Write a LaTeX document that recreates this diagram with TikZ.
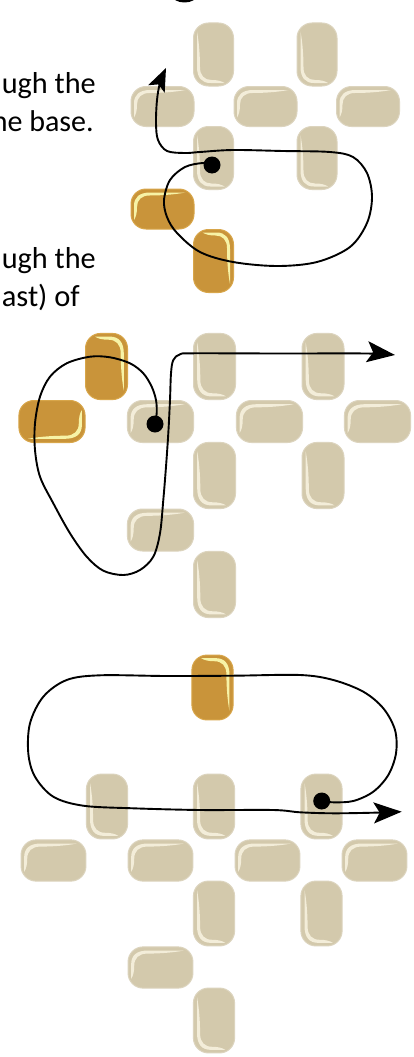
\documentclass[tikz,border=0pt]{standalone}
\usepackage{fontspec}
\usepackage{graphicx}
\setmainfont{Carlito}
\newfontfamily\labelfont{Carlito}
\usetikzlibrary{arrows.meta}
\definecolor{tanfill}{HTML}{D3C9AC}
\definecolor{tanedge}{HTML}{DCD4BE}
\definecolor{tanhl}{HTML}{F3EDD9}
\definecolor{goldfill}{HTML}{C9943A}
\definecolor{goldedge}{HTML}{D8A64A}
\definecolor{goldhl}{HTML}{F7F3A6}
\newcommand\tiledraw[3]{%
  \filldraw[fill=#1, draw=#2, line width=1pt, rounded corners=15pt]
    (-31.5,-20) -- (31.5,-20) -- (31.5,20) -- (-31.5,20) -- cycle;
  \fill[#3] (-28.5,-11) -- (-28.5,3) .. controls (-28.5,12) and (-23,16.5) .. (-12,16.5) -- (23,16.5)
    .. controls (10,14) and (-5,13.5) .. (-13,13.5) .. controls (-21,13.5) and (-25.5,9) .. (-25.5,2)
    .. controls (-25.5,-4) and (-26.5,-8) .. (-28.5,-11) -- cycle;
}
\tikzset{
  pics/tantile/.style={code={\tiledraw{tanfill}{tanedge}{tanhl}}},
  pics/goldtile/.style={code={\tiledraw{goldfill}{goldedge}{goldhl}}},
  curve/.style={line width=1.9pt, line join=round, line cap=round},
  dot/.style={circle, fill=black, minimum size=17pt, inner sep=0pt},
  txt/.style={inner sep=0pt, anchor=base east},
  tipA/.style={-{Stealth[length=23pt,width=18pt,inset=5pt]}},
  tipB/.style={-{Stealth[length=28pt,width=21pt,inset=6pt]}}
}
\newcommand\fittxt[2]{\resizebox{#1}{!}{\labelfont\fontsize{30pt}{36pt}\selectfont #2}}
\begin{document}
\begin{tikzpicture}[x=1pt,y=1pt]
\useasboundingbox (0,0) rectangle (414,-1057);
\clip (0,0) rectangle (414,-1057);
\fill[white] (0,0) rectangle (414,-1057);
% top fragment
\fill[black] (184.5,5.5) ellipse [x radius=13, y radius=8];
% texts
\node[txt] (t1) at (96,-93) {\fittxt{94pt}{ugh the}};
\node[txt] (t2) at (94,-131) {\fittxt{102pt}{he base.}};
\node[txt] (t3) at (96,-268) {\fittxt{94pt}{ugh the}};
\node[txt] (t4) at (80,-306) {\fittxt{78pt}{ast) of}};
% ---------- panel 1 ----------
\pic[rotate=90] at (213.5,-54.5) {tantile};
\pic[rotate=90] at (317,-54.5) {tantile};
\pic at (162.5,-106.5) {tantile};
\pic at (265.5,-106.5) {tantile};
\pic at (368,-106.5) {tantile};
\pic[rotate=90] at (213.5,-158) {tantile};
\pic[rotate=90] at (317,-158) {tantile};
\pic at (162.5,-209) {goldtile};
\pic[rotate=-90] at (213.5,-261) {goldtile};
\coordinate (p1) at (212,-165);
\coordinate (e1) at (166,-68);
\draw[curve, tipA] plot[smooth, tension=0.55] coordinates {(p1) (203,-163) (185,-167) (170,-180) (164,-200) (167,-217) (177,-233) (200,-252) (233,-262) (277,-266) (317,-262) (350,-247) (367,-223) (372,-197) (367,-173) (353,-157) (330,-152) (283,-151) (233,-150) (200,-152) (185,-153) (167,-151) (158,-140) (156,-123) (157,-100) (160,-83) (e1)};
\node[dot] (d1) at (p1) {};
% ---------- panel 2 ----------
\pic[rotate=-90, scale=1.05] at (106.5,-366.5) {goldtile};
\pic[rotate=180, scale=1.05] at (52,-421.5) {goldtile};
\pic[scale=1.05] at (160.5,-421.5) {tantile};
\pic[scale=1.05] at (269.5,-421.5) {tantile};
\pic[scale=1.05] at (377.5,-421.5) {tantile};
\pic[rotate=90, scale=1.05] at (214.5,-366.5) {tantile};
\pic[rotate=90, scale=1.05] at (323,-366.5) {tantile};
\pic[rotate=90, scale=1.05] at (214.5,-475.5) {tantile};
\pic[rotate=90, scale=1.05] at (323,-475.5) {tantile};
\pic[scale=1.05] at (160.5,-530) {tantile};
\pic[rotate=90, scale=1.05] at (214.5,-584.5) {tantile};
\coordinate (p2) at (155,-424);
\coordinate (e2) at (395,-355);
\draw[curve, tipB] plot[smooth, tension=0.55] coordinates {(p2) (156.7,-413) (156,-400) (151.7,-386.7) (143.3,-373.3) (130,-363.3) (110,-357.3) (90,-356.7) (66.7,-363.3) (50,-376.7) (40,-396.7) (35,-423.3) (35,-450) (40,-476.7) (53.3,-503.3) (70,-533.3) (86.7,-556.7) (103.3,-570.7) (123.3,-575) (140,-570) (153.3,-556.7) (160,-533.3) (163.3,-500) (166,-466.7) (168.3,-433.3) (170,-400) (171,-373.3) (173.3,-360) (180,-354.3) (193.3,-353.3) (280,-353.5) (366.7,-353.5) (e2)};
\node[dot] (d2) at (p2) {};
% ---------- panel 3 ----------
\pic[rotate=-90, scale=1.03] at (212.5,-687.5) {goldtile};
\pic[rotate=90, scale=1.03] at (107,-806.5) {tantile};
\pic[rotate=90, scale=1.03] at (214,-806.5) {tantile};
\pic[rotate=90, scale=1.03] at (321.5,-806.5) {tantile};
\pic[scale=1.03] at (53.5,-860.5) {tantile};
\pic[scale=1.03] at (160.5,-860.5) {tantile};
\pic[scale=1.03] at (267.5,-860.5) {tantile};
\pic[scale=1.03] at (374.5,-860.5) {tantile};
\pic[rotate=90, scale=1.03] at (214,-913.5) {tantile};
\pic[rotate=90, scale=1.03] at (321.5,-913.5) {tantile};
\pic[scale=1.03] at (160.5,-967.5) {tantile};
\pic[rotate=90, scale=1.03] at (214,-1020.5) {tantile};
\coordinate (p3) at (321.7,-801);
\coordinate (e3) at (401.7,-811.7);
\draw[curve, tipB] plot[smooth, tension=0.55] coordinates {(p3) (333.3,-802.3) (353.3,-801) (373.3,-791.7) (388.3,-775) (396,-753.3) (395,-730) (383.3,-708.3) (363.3,-691.7) (333.3,-680) (300,-675) (233.3,-675.7) (166.7,-676) (100,-675.3) (66.7,-680) (43.3,-696.7) (30,-723.3) (28.3,-753.3) (35,-776.7) (53.3,-796.7) (83.3,-805.7) (133.3,-808.3) (200,-810) (273.3,-810) (300,-812.3) (333.3,-813.3) (373.3,-812.7) (e3)};
\node[dot] (d3) at (p3) {};
\end{tikzpicture}
\end{document}
